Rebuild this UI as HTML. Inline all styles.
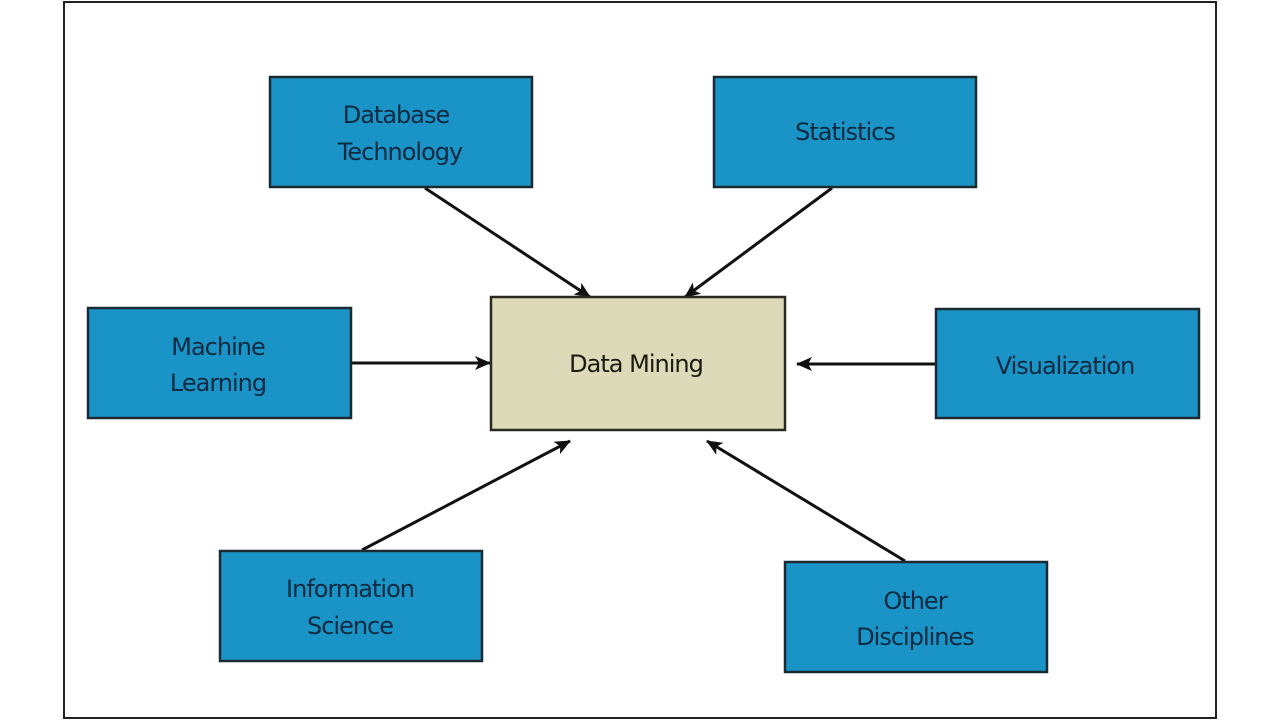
<!DOCTYPE html>
<html><head><meta charset="utf-8"><style>
html,body{margin:0;padding:0;background:#fff;}
svg{display:block;}
text{font-family:"DejaVu Sans","Liberation Sans",sans-serif;font-size:24px;text-anchor:middle;letter-spacing:-1px;}
</style></head><body>
<svg width="1280" height="720" viewBox="0 0 1280 720" xmlns="http://www.w3.org/2000/svg">
<defs><marker id="a" markerWidth="10" markerHeight="10" refX="9" refY="5" orient="auto" markerUnits="userSpaceOnUse" viewBox="0 0 10 10"><path d="M0,0 L10,5 L0,10 L2,5 z" fill="#111"/></marker>
<marker id="b" markerWidth="16" markerHeight="14" refX="15" refY="7" orient="auto" markerUnits="userSpaceOnUse" viewBox="0 0 16 14"><path d="M0,0 L16,7 L0,14 L4,7 z" fill="#111"/></marker></defs>
<rect x="0" y="0" width="1280" height="720" fill="#fff"/>
<rect x="64" y="2" width="1152" height="716" fill="#fff" stroke="#222" stroke-width="2"/>
<g stroke="#111" stroke-width="3" fill="none" marker-end="url(#b)">
<line x1="425" y1="188" x2="590" y2="297"/>
<line x1="832" y1="188" x2="685" y2="297"/>
<line x1="352" y1="363" x2="490" y2="363"/>
<line x1="935" y1="364" x2="797" y2="364"/>
<line x1="362" y1="550" x2="570" y2="441"/>
<line x1="905" y1="561" x2="707" y2="441"/>
</g>
<g fill="#1a94c6" stroke="#1a2a33" stroke-width="2.5">
<rect x="270" y="77" width="262" height="110"/>
<rect x="714" y="77" width="262" height="110"/>
<rect x="88" y="308" width="263" height="110"/>
<rect x="936" y="309" width="263" height="109"/>
<rect x="220" y="551" width="262" height="110"/>
<rect x="785" y="562" width="262" height="110"/>
</g>
<rect x="491" y="297" width="294" height="133" fill="#dcdab8" stroke="#2a2a22" stroke-width="2.5"/>
<g fill="#0f2a40">
<text x="396" y="123">Database</text>
<text x="400" y="160">Technology</text>
<text x="845" y="140">Statistics</text>
<text x="218" y="355">Machine</text>
<text x="218" y="391">Learning</text>
<text x="1065" y="374">Visualization</text>
<text x="350" y="597">Information</text>
<text x="350" y="634">Science</text>
<text x="915" y="609">Other</text>
<text x="915" y="645">Disciplines</text>
</g>
<text x="636" y="372" fill="#1a1a10">Data Mining</text>
</svg>
</body></html>
